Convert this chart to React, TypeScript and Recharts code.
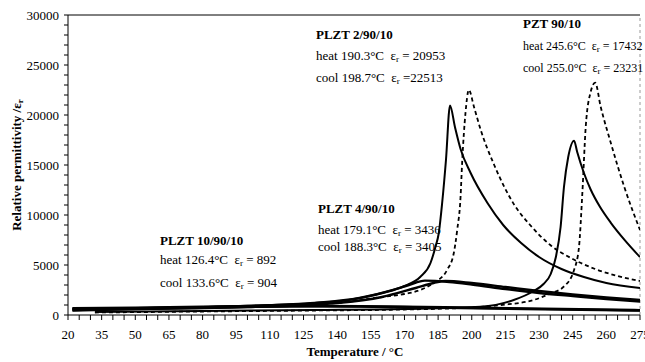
import React from "react";
import { LineChart, Line, XAxis, YAxis, ReferenceLine } from "recharts";

// temperatures (°C) and relative permittivity
const plzt2HeatT = [22, 50, 80, 110, 130, 145, 160, 170, 177, 181.6, 183.8, 185.3, 186.8, 188.5, 190.3, 192.5, 195, 199.5, 207, 214, 222, 230, 240, 250, 260, 275];
const plzt2HeatV = [700, 750, 850, 1000, 1200, 1500, 2200, 2900, 3800, 5200, 6800, 8200, 11200, 15500, 20953, 18800, 16600, 14200, 11200, 9000, 7200, 5800, 4600, 3800, 3200, 2700];

const plzt2CoolT = [22, 60, 110, 140, 160, 170, 177, 183, 189, 192, 193.5, 195, 195.7, 197.2, 198.7, 201, 204, 210, 219, 226, 235, 245, 255, 265, 275];
const plzt2CoolV = [650, 700, 900, 1200, 1800, 2100, 2500, 3200, 4500, 6200, 8500, 11800, 15200, 20200, 22513, 20800, 18500, 15000, 11000, 9000, 7000, 5600, 4600, 3900, 3400];

const plzt4HeatT = [22, 60, 100, 130, 150, 165, 172, 179.1, 190, 200, 215, 230, 245, 260, 275];
const plzt4HeatV = [600, 700, 900, 1200, 1700, 2500, 3000, 3436, 3300, 3050, 2600, 2200, 1900, 1600, 1350];

const plzt4CoolT = [22, 100, 140, 160, 175, 183, 188.3, 200, 215, 230, 245, 260, 275];
const plzt4CoolV = [550, 800, 1200, 1800, 2700, 3200, 3405, 3200, 2800, 2400, 2050, 1750, 1500];

const plzt10HeatT = [22, 60, 100, 126.4, 150, 180, 210, 240, 275];
const plzt10HeatV = [500, 700, 850, 892, 850, 750, 650, 550, 450];

const plzt10CoolT = [22, 80, 120, 133.6, 160, 200, 240, 275];
const plzt10CoolV = [450, 750, 880, 904, 850, 720, 600, 480];

const pztHeatT = [32, 80, 130, 170, 204, 218.7, 227.6, 232, 235.2, 237.5, 239.6, 241.1, 243, 245.6, 247, 250, 253, 257, 262, 268, 275];
const pztHeatV = [300, 400, 500, 600, 830, 1500, 2400, 3100, 4100, 5800, 8800, 12800, 15800, 17432, 16300, 14200, 12550, 10870, 9220, 7540, 5790];

const pztCoolT = [32, 80, 130, 170, 200, 213, 227.6, 235.2, 241, 245.6, 247.8, 249.3, 250.8, 253, 255, 257.5, 262, 268, 275];
const pztCoolV = [250, 350, 450, 550, 750, 1000, 1500, 2170, 2830, 4500, 6800, 12200, 18800, 22300, 23231, 20800, 17200, 12800, 8500];

const xTicks = Array.from({ length: 52 }, (_, i) => 20 + i * 5);
const yTicks = Array.from({ length: 31 }, (_, i) => i * 1000);

const serif = "Liberation Serif";

const toPoints = (ts: number[], vs: number[]) => ts.map((t, i) => ({ t, v: vs[i] }));

const series = [
  { name: "PLZT 2/90/10 heat", data: toPoints(plzt2HeatT, plzt2HeatV), dash: undefined, w: 2 },
  { name: "PLZT 2/90/10 cool", data: toPoints(plzt2CoolT, plzt2CoolV), dash: "4 3", w: 1.8 },
  { name: "PLZT 4/90/10 heat", data: toPoints(plzt4HeatT, plzt4HeatV), dash: undefined, w: 2.4 },
  { name: "PLZT 4/90/10 cool", data: toPoints(plzt4CoolT, plzt4CoolV), dash: undefined, w: 2.4 },
  { name: "PLZT 10/90/10 heat", data: toPoints(plzt10HeatT, plzt10HeatV), dash: undefined, w: 2.6 },
  { name: "PLZT 10/90/10 cool", data: toPoints(plzt10CoolT, plzt10CoolV), dash: undefined, w: 2.6 },
  { name: "PZT 90/10 heat", data: toPoints(pztHeatT, pztHeatV), dash: undefined, w: 2 },
  { name: "PZT 90/10 cool", data: toPoints(pztCoolT, pztCoolV), dash: "4 3", w: 1.8 },
];

function XTick({ x, y, payload }: any) {
  const t = payload.value;
  if ((t - 20) % 15 !== 0) return null;
  return (
    <text x={x} y={y + 17} textAnchor="middle" fontFamily={serif} fontSize={13} fill="#000">
      {t}
    </text>
  );
}

function YTick({ x, y, payload }: any) {
  const v = payload.value;
  if (v % 5000 !== 0) return null;
  return (
    <text x={x - 3} y={y + 4.5} textAnchor="end" fontFamily={serif} fontSize={13} fill="#000">
      {v}
    </text>
  );
}

function Note({ x, y, bold, size = 13, children }: { x: number; y: number; bold?: boolean; size?: number; children: React.ReactNode }) {
  return (
    <div
      style={{
        position: "absolute",
        left: x,
        top: y,
        fontFamily: serif,
        fontSize: size,
        lineHeight: "13px",
        fontWeight: bold ? "bold" : "normal",
        whiteSpace: "pre",
        color: "#000",
      }}
    >
      {children}
    </div>
  );
}

const Eps = () => (
  <span>
    ε<sub style={{ fontSize: 9, verticalAlign: "-2px" }}>r</sub>
  </span>
);

export default function App() {
  return (
    <div style={{ position: "absolute", left: 0, top: 0, width: 645, height: 362, background: "#fff", fontFamily: serif }}>
      <LineChart width={645} height={362} margin={{ top: 15, right: 5, left: 0, bottom: 0 }}>
        <XAxis
          type="number"
          dataKey="t"
          domain={[20, 275]}
          ticks={xTicks}
          interval={0}
          allowDataOverflow
          height={47}
          tickSize={5}
          tick={<XTick />}
          axisLine={{ stroke: "#000" }}
          tickLine={{ stroke: "#000" }}
        />
        <YAxis
          type="number"
          domain={[0, 30000]}
          ticks={yTicks}
          interval={0}
          width={68}
          tickSize={4}
          tick={<YTick />}
          axisLine={{ stroke: "#000" }}
          tickLine={{ stroke: "#000" }}
        />
        <ReferenceLine y={30000} stroke="#000" strokeWidth={1} />
        <ReferenceLine x={275} stroke="#999" strokeDasharray="3 3" />
        {series.map((s) => (
          <Line
            key={s.name}
            name={s.name}
            data={s.data}
            dataKey="v"
            type="monotone"
            stroke="#000"
            strokeWidth={s.w}
            strokeDasharray={s.dash}
            dot={false}
            activeDot={false}
            isAnimationActive={false}
          />
        ))}
      </LineChart>

      <Note x={316} y={28} bold>PLZT 2/90/10</Note>
      <Note x={316} y={49}>heat 190.3°C  <Eps /> = 20953</Note>
      <Note x={316} y={71}>cool 198.7°C  <Eps /> =22513</Note>

      <Note x={523} y={17} bold>PZT 90/10</Note>
      <Note x={523} y={40} size={12}>heat 245.6°C  <Eps /> = 17432</Note>
      <Note x={523} y={62} size={12}>cool 255.0°C  <Eps /> = 23231</Note>

      <Note x={318} y={202} bold>PLZT 4/90/10</Note>
      <Note x={318} y={223}>heat 179.1°C  <Eps /> = 3436</Note>
      <Note x={318} y={240}>cool 188.3°C  <Eps /> = 3405</Note>

      <Note x={160} y={234} bold>PLZT 10/90/10</Note>
      <Note x={160} y={253}>heat 126.4°C  <Eps /> = 892</Note>
      <Note x={160} y={276}>cool 133.6°C  <Eps /> = 904</Note>

      <div
        style={{
          position: "absolute",
          left: 17,
          top: 165,
          transform: "translate(-50%, -50%) rotate(-90deg)",
          fontFamily: serif,
          fontSize: 13,
          fontWeight: "bold",
          whiteSpace: "nowrap",
        }}
      >
        Relative permittivity /<Eps />
      </div>
      <div
        style={{
          position: "absolute",
          left: 355,
          top: 352,
          transform: "translate(-50%, -50%)",
          fontFamily: serif,
          fontSize: 13,
          fontWeight: "bold",
          whiteSpace: "nowrap",
        }}
      >
        Temperature / °C
      </div>
    </div>
  );
}
